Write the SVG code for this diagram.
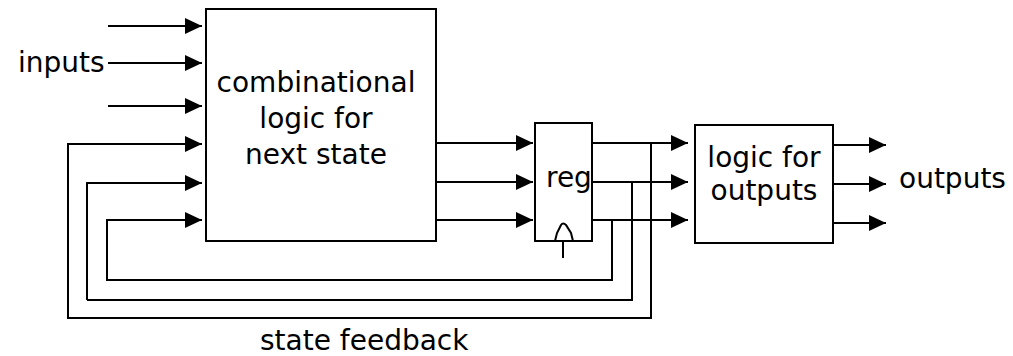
<svg xmlns="http://www.w3.org/2000/svg" width="1013" height="356" viewBox="0 0 1013 356">
<style>
.box{fill:#fff;stroke:#000;stroke-width:2}
.w{fill:none;stroke:#000;stroke-width:2}
.t{font-family:"DejaVu Sans",sans-serif;font-size:28px;fill:#000}
.c{text-anchor:middle}
</style>
<defs>
<marker id="ah" markerUnits="userSpaceOnUse" markerWidth="18" markerHeight="18" refX="17" refY="9" orient="auto">
<path d="M0,1 L17,9 L0,17 Z" fill="#000"/>
</marker>
</defs>
<g id="connectors" class="w">
<path d="M108,26 H202" marker-end="url(#ah)"/>
<path d="M108,63 H202" marker-end="url(#ah)"/>
<path d="M108,106 H202" marker-end="url(#ah)"/>
<path d="M68,319 V144 H202" marker-end="url(#ah)"/>
<path d="M87,300 V183 H202" marker-end="url(#ah)"/>
<path d="M107,281 V220 H202" marker-end="url(#ah)"/>
<path d="M436,143 H533" marker-end="url(#ah)"/>
<path d="M436,182 H533" marker-end="url(#ah)"/>
<path d="M436,220 H533" marker-end="url(#ah)"/>
<path d="M592,143 H688" marker-end="url(#ah)"/>
<path d="M592,182 H688" marker-end="url(#ah)"/>
<path d="M592,220 H688" marker-end="url(#ah)"/>
<path d="M651,143 V318 H68"/>
<path d="M632,182 V300 H87"/>
<path d="M612,220 V280 H107"/>
<path d="M833,145 H886" marker-end="url(#ah)"/>
<path d="M833,184 H886" marker-end="url(#ah)"/>
<path d="M833,223 H886" marker-end="url(#ah)"/>
<path d="M563,241 V258"/>
</g>
<g id="inputs-label"><text class="t" x="18" y="72">inputs</text></g>
<g id="comb">
<rect class="box" x="206" y="9" width="230" height="232"/>
<text class="t c" x="316" y="92">combinational</text>
<text class="t c" x="316" y="128">logic for</text>
<text class="t c" x="316" y="164">next state</text>
</g>
<g id="reg">
<rect class="box" x="535" y="123" width="57" height="118"/>
<path class="w" d="M555,241 L557,233 L561,225 Q563,222 566,225 L571,233 L573,241"/>
<text class="t" x="546" y="187">reg</text>
</g>
<g id="outlogic">
<rect class="box" x="695" y="125" width="138" height="118"/>
<text class="t c" x="764" y="167">logic for</text>
<text class="t c" x="764" y="200">outputs</text>
</g>
<g id="outputs-label"><text class="t" x="899" y="188">outputs</text></g>
<g id="feedback-label"><text class="t" x="260" y="350">state feedback</text></g>
</svg>
